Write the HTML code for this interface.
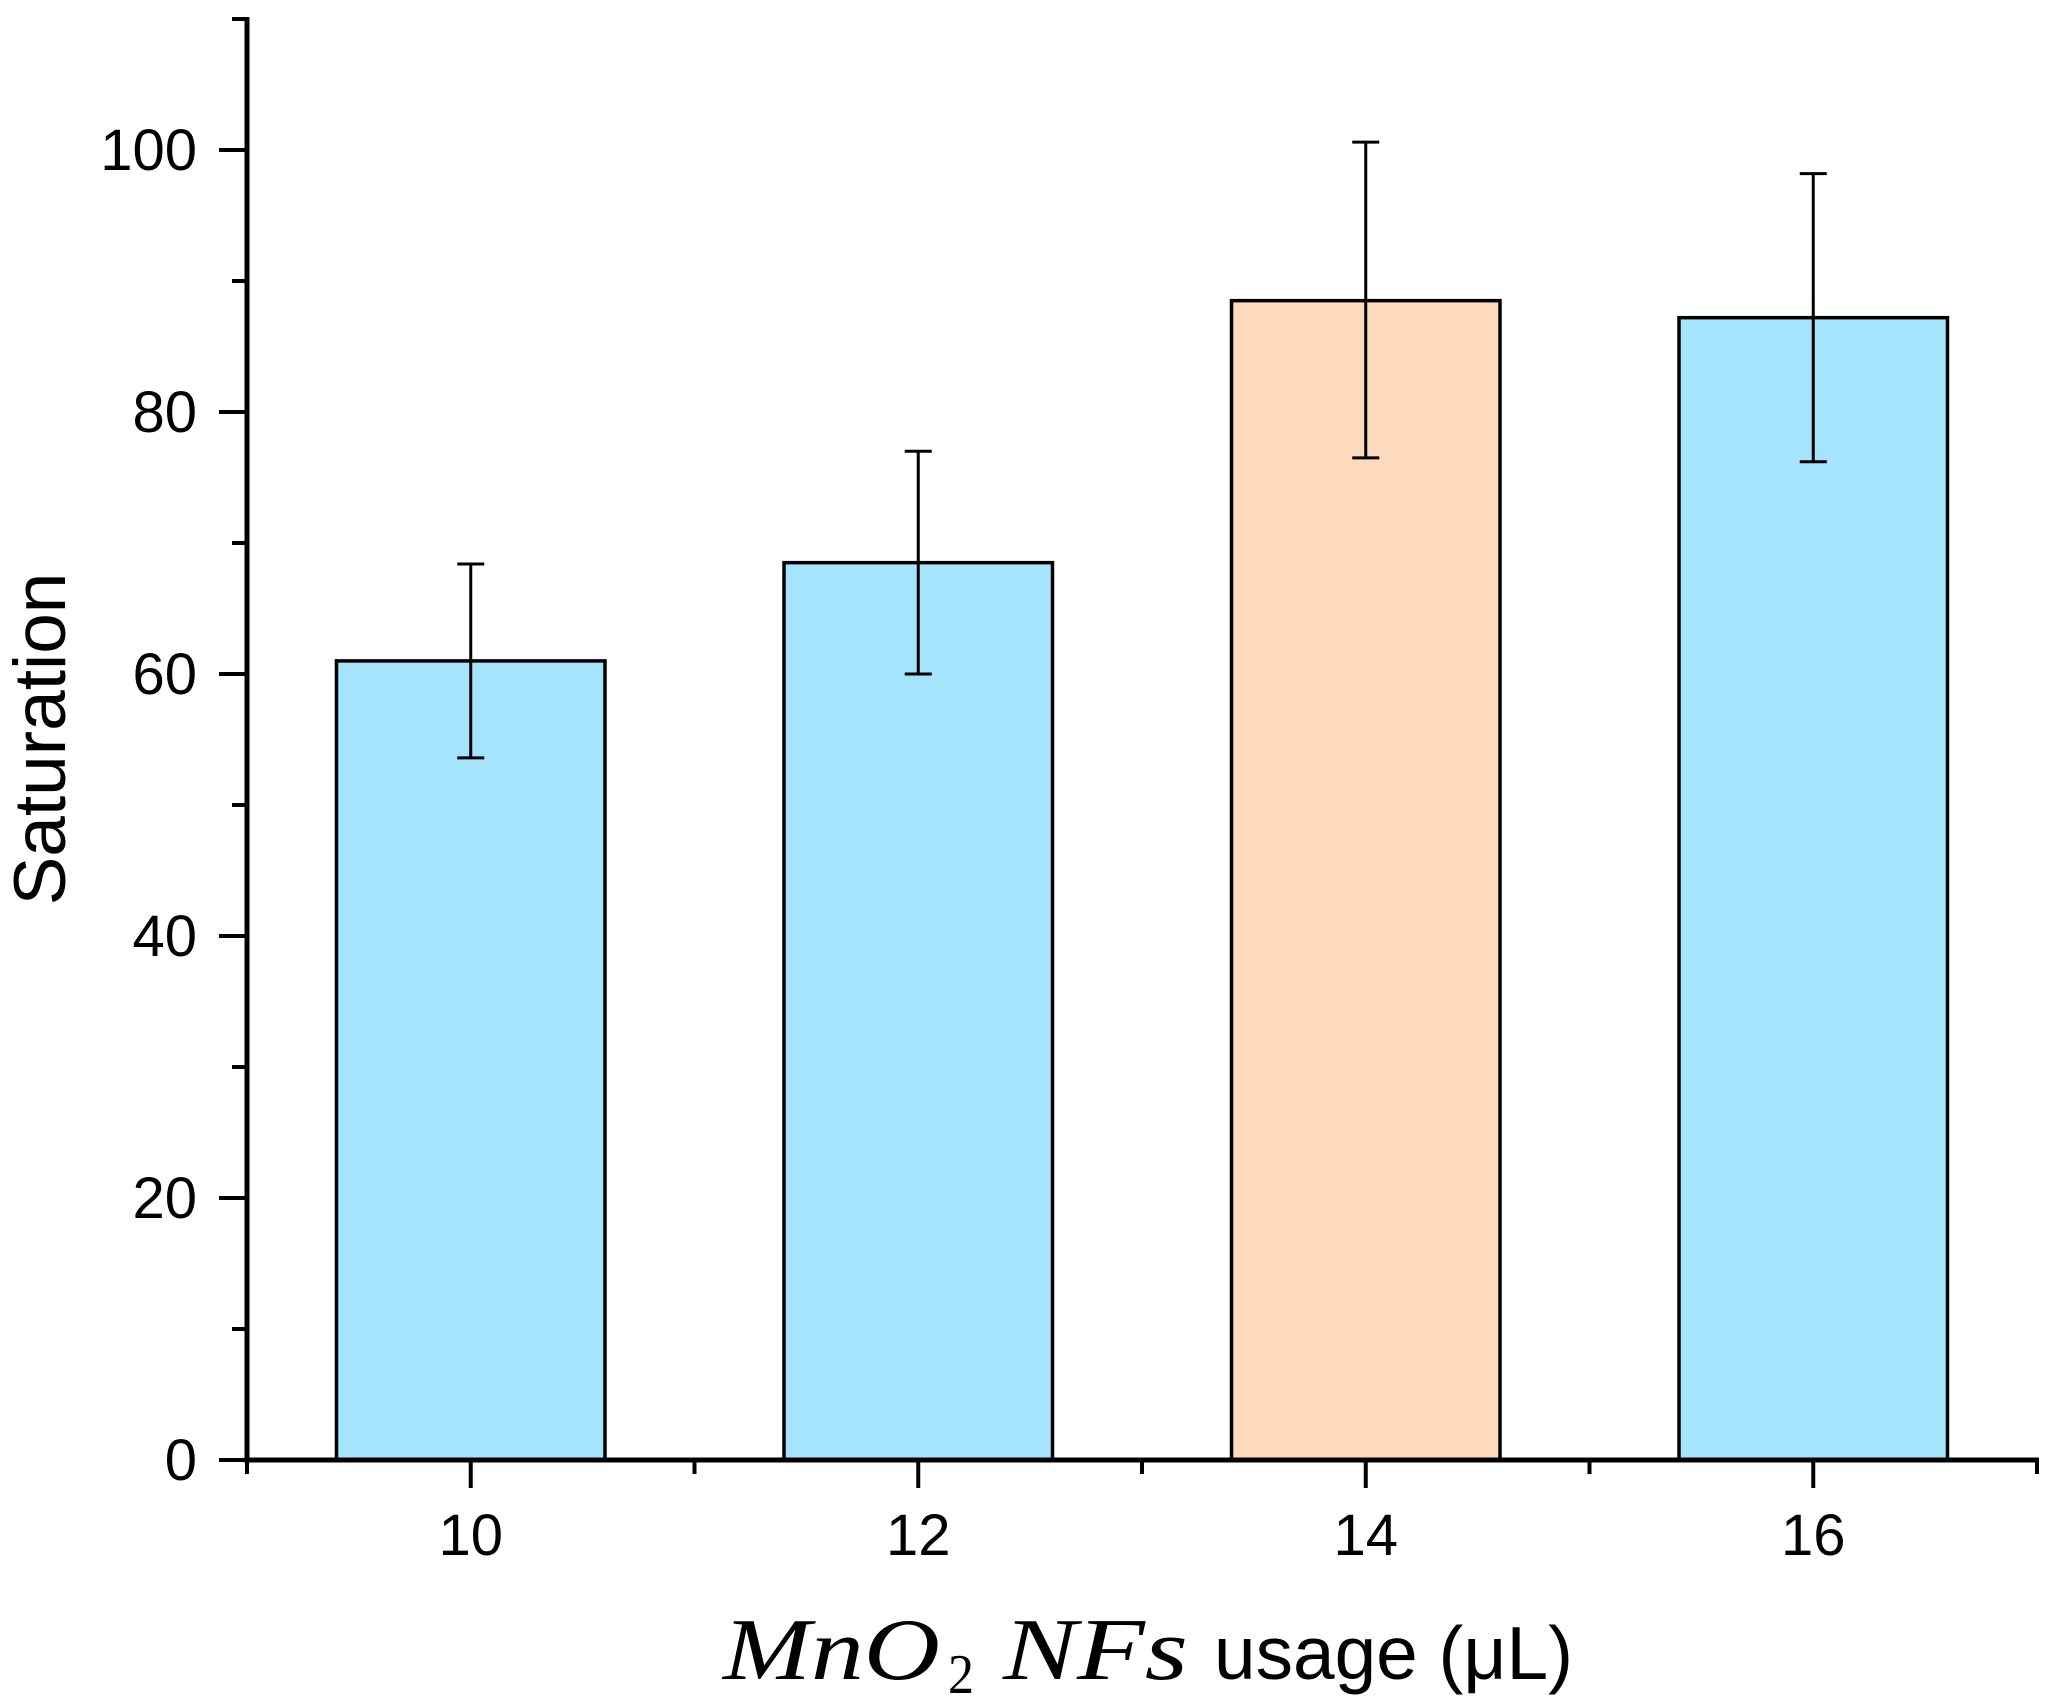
<!DOCTYPE html>
<html><head><meta charset="utf-8"><style>
html,body{margin:0;padding:0;background:#fff;}
svg{display:block;}
text{font-family:"Liberation Sans",sans-serif;fill:#000;}
</style></head><body>
<svg id="chart" width="2055" height="1701" viewBox="0 0 2055 1701" xmlns="http://www.w3.org/2000/svg">
<g id="bars"></g>
<g id="errs"></g>
<g id="axes"></g>
<text transform="translate(65,739) rotate(-90)" text-anchor="middle" font-size="73">Saturation</text>
<g>
<text x="723" y="1679" style="font-family:'Liberation Serif',serif;font-style:italic" font-size="88" textLength="217" lengthAdjust="spacingAndGlyphs">MnO</text>
<text x="948" y="1693" style="font-family:'Liberation Serif',serif" font-size="56" textLength="26" lengthAdjust="spacingAndGlyphs">2</text>
<text x="1003" y="1679" style="font-family:'Liberation Serif',serif;font-style:italic" font-size="88" textLength="185" lengthAdjust="spacingAndGlyphs">NFs</text>
<text x="1214" y="1679" font-size="75" textLength="359" lengthAdjust="spacingAndGlyphs">usage (μL)</text>
</g>
</svg>
<script>
const categories = [10, 12, 14, 16];
const values = [61, 68.5, 88.5, 87.2];
const errUp = [68.4, 77, 100.6, 98.2];
const errDown = [53.6, 60, 76.5, 76.2];
const highlight = [false, false, true, false];
const yTicks = [0, 20, 40, 60, 80, 100];
const xTicks = [10, 12, 14, 16];

const NS = "http://www.w3.org/2000/svg";
const X0 = 247, X1 = 2037, Y0 = 1460, Y1 = 19;
const xMin = 9, xMax = 17, yMin = 0, yMax = 110;
const xs = v => X0 + (v - xMin) / (xMax - xMin) * (X1 - X0);
const ys = v => Y0 - (v - yMin) / (yMax - yMin) * (Y0 - Y1);
function mk(tag, attrs, parent){const e=document.createElementNS(NS,tag);for(const k in attrs)e.setAttribute(k,attrs[k]);parent.appendChild(e);return e;}
const bars=document.getElementById('bars'), errs=document.getElementById('errs'), axes=document.getElementById('axes');
const bw = 1.2;
categories.forEach((c,i)=>{
  const r = mk('rect',{x:xs(c-bw/2),y:ys(values[i]),width:xs(c+bw/2)-xs(c-bw/2),height:ys(0)-ys(values[i]),fill:highlight[i]?'#FDDABE':'#A4E4FD',stroke:'#000','stroke-width':3.5},bars);
  
  
  const g = mk('g',{stroke:'#000','stroke-width':3},errs);
  
  
  const cx = xs(c);
  mk('line',{x1:cx,x2:cx,y1:ys(errUp[i]),y2:ys(errDown[i])},g);
  mk('line',{x1:cx-13.5,x2:cx+13.5,y1:ys(errUp[i]),y2:ys(errUp[i])},g);
  mk('line',{x1:cx-13.5,x2:cx+13.5,y1:ys(errDown[i]),y2:ys(errDown[i])},g);
});
const ya = mk('line',{x1:X0,x2:X0,y1:Y1-2,y2:Y0+3,stroke:'#000','stroke-width':5},axes);


const xa = mk('line',{x1:X0-2,x2:X1+2,y1:Y0,y2:Y0,stroke:'#000','stroke-width':5},axes);


for(let v=0; v<=110; v+=10){
  const major = v%20===0 && v<=100;
  mk('line',{x1:X0-(major?28:15),x2:X0,y1:ys(v),y2:ys(v),stroke:'#000','stroke-width':4},axes);
}
yTicks.forEach(v=>{
  const t=mk('text',{x:197,y:ys(v)+20,'text-anchor':'end','font-size':58},axes);
  t.textContent=v;
  
  
});
for(let v=9; v<=17; v+=1){
  const major = xTicks.includes(v);
  mk('line',{x1:xs(v),x2:xs(v),y1:Y0,y2:Y0+(major?28:14),stroke:'#000','stroke-width':4},axes);
}
xTicks.forEach(v=>{
  const t=mk('text',{x:xs(v),y:1555,'text-anchor':'middle','font-size':58},axes);
  t.textContent=v;
  
  
});
</script>
</body></html>
